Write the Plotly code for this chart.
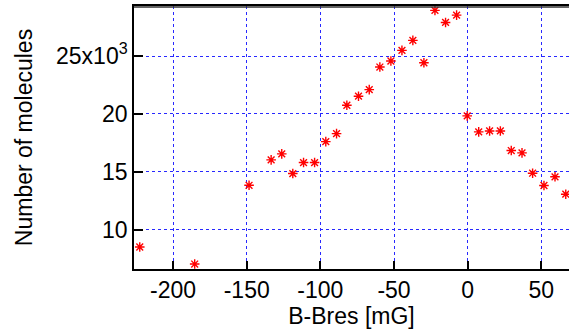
import plotly.graph_objects as go

b_minus_bres = [-222.6, -185.3, -148.4, -133.4, -126.2, -118.7, -111.4, -103.9, -96.3, -89.0,
                -82.0, -74.1, -66.8, -59.6, -52.1, -44.6, -37.2, -29.7, -22.2, -15.0, -7.5,
                -0.3, 7.5, 14.9, 22.2, 29.6, 36.9, 44.1, 51.8, 59.3, 66.6]
molecules = [8510, 7040, 13840, 16030, 16550, 14850, 15800, 15800, 17610, 18300,
             20750, 21530, 22100, 24050, 24570, 25490, 26350, 24420, 28940, 27900, 28530,
             19830, 18450, 18530, 18530, 16840, 16640, 14880, 13820, 14570, 13070]

y_tickvals = [10000, 15000, 20000, 25000]
y_ticktext = ["10", "15", "20", "25x10<sup>3</sup>"]
x_tickvals = [-200, -150, -100, -50, 0, 50]
x_ticktext = ["-200", "-150", "-100", "-50", "0", "50"]

FONT = "Liberation Sans, Arial, sans-serif"
GRID = "rgb(40,40,255)"

fig = go.Figure()
fig.add_trace(go.Scatter(
    x=b_minus_bres, y=molecules, mode="markers",
    marker=dict(symbol="asterisk-open", size=8, color="red",
                line=dict(color="red", width=1.4)),
    cliponaxis=False, showlegend=False,
))

fig.update_layout(
    width=569, height=333,
    margin=dict(l=134, r=0, t=6, b=64, autoexpand=False),
    paper_bgcolor="white", plot_bgcolor="white",
    font=dict(family=FONT, color="black", size=23),
    xaxis=dict(
        range=[-226.5, 68.8], automargin=False,
        tickvals=x_tickvals, ticktext=x_ticktext,
        ticks="inside", ticklen=8, tickwidth=1.5, tickcolor="black",
        showline=True, linecolor="black", linewidth=1.5, mirror=True,
        showgrid=True, gridcolor=GRID, griddash="dot", gridwidth=1,
        zeroline=False,
        tickfont=dict(size=23, family=FONT),
        title=dict(text="B-Bres [mG]", font=dict(size=23, family=FONT), standoff=2),
    ),
    yaxis=dict(
        range=[6610, 29320], automargin=False,
        tickvals=y_tickvals, ticktext=y_ticktext,
        ticks="inside", ticklen=9, tickwidth=1.5, tickcolor="black",
        showline=True, linecolor="black", linewidth=1.5,
        showgrid=True, gridcolor=GRID, griddash="dot", gridwidth=1,
        zeroline=False,
        tickfont=dict(size=23, family=FONT),
        title=dict(text="Number of molecules", font=dict(size=23, family=FONT), standoff=17),
    ),
    shapes=[dict(type="line", xref="paper", yref="paper", x0=0, x1=1, y0=0.996, y1=0.996,
                 line=dict(color="rgb(50,50,50)", width=1.5), layer="above")],
)

fig.write_html("out.html", config={"displayModeBar": False},
               post_script="document.body.style.margin='0';document.body.style.overflow='hidden';")
